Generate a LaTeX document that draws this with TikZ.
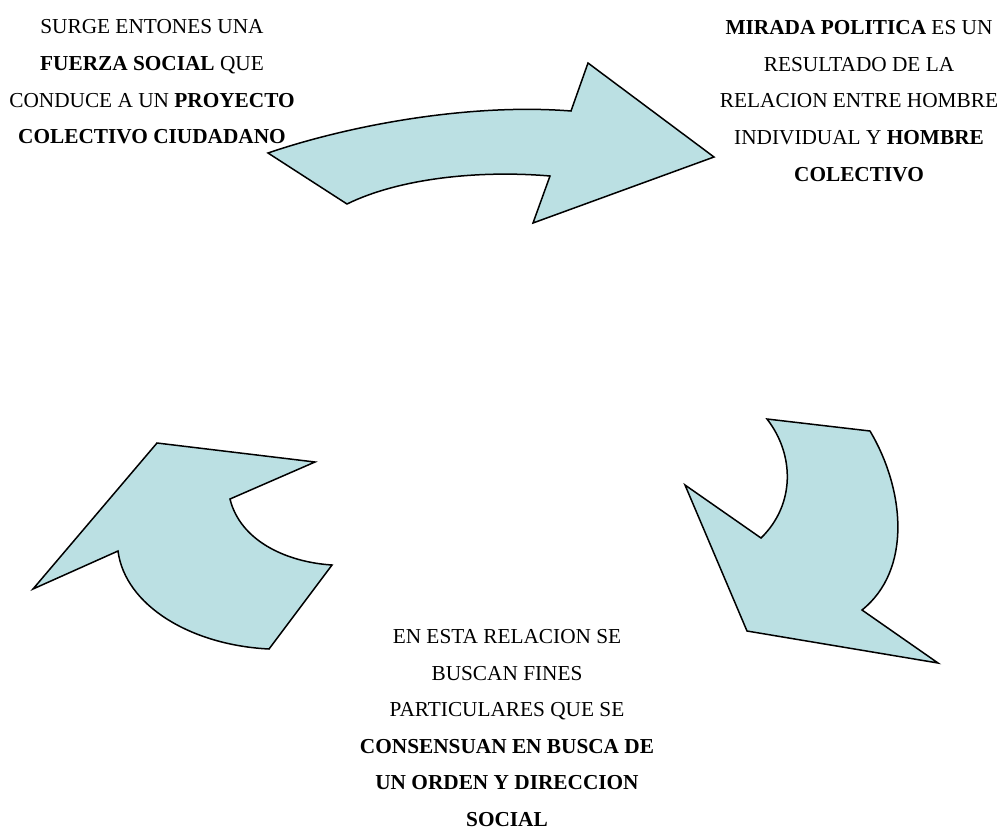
\documentclass[tikz,border=0pt]{standalone}
\usepackage{fontspec}
\setmainfont{Liberation Serif}
\definecolor{arrowfill}{RGB}{187,224,227}
\begin{document}
\begin{tikzpicture}[x=1pt,y=-1pt,
  bigarrow/.style={draw=black,line width=1.5pt,line join=miter,fill=arrowfill},
  label/.style={align=center,inner sep=0pt,font=\fontsize{21.3}{36.6}\selectfont}]
\useasboundingbox (0,0) rectangle (1002,831);
% top arrow
\path[bigarrow] (268,153) .. controls (350,125) and (470,103) .. (571,111)
  -- (588,63) -- (714,157) -- (533,223) -- (550,176)
  .. controls (480,170) and (400,178) .. (347,204) -- cycle;
% right arrow
\path[bigarrow] (767,419) -- (870,431) .. controls (905,490) and (912,570) .. (862,610)
  -- (938,663) -- (747,631) -- (685,485) -- (761,538)
  .. controls (795,505) and (795,455) .. (767,419) -- cycle;
% left arrow
\path[bigarrow] (157,443) -- (315,462) -- (230,499)
  .. controls (240,540) and (285,562) .. (332,565) -- (269,649)
  .. controls (190,645) and (125,605) .. (118,551) -- (33,589) -- cycle;
% texts
\node[label] (t1) at (152,82) {SURGE ENTONES UNA\\ \textbf{FUERZA SOCIAL} QUE\\ CONDUCE A UN \textbf{PROYECTO}\\ \textbf{COLECTIVO CIUDADANO}};
\node[label] (t2) at (859,101) {\textbf{MIRADA POLITICA} ES UN\\ RESULTADO DE LA\\ RELACION ENTRE HOMBRE\\ INDIVIDUAL Y \textbf{HOMBRE}\\ \textbf{COLECTIVO}};
\node[label] (t3) at (507,728) {EN ESTA RELACION SE\\ BUSCAN FINES\\ PARTICULARES QUE SE\\ \textbf{CONSENSUAN EN BUSCA DE}\\ \textbf{UN ORDEN Y DIRECCION}\\ \textbf{SOCIAL}};
\end{tikzpicture}
\end{document}
